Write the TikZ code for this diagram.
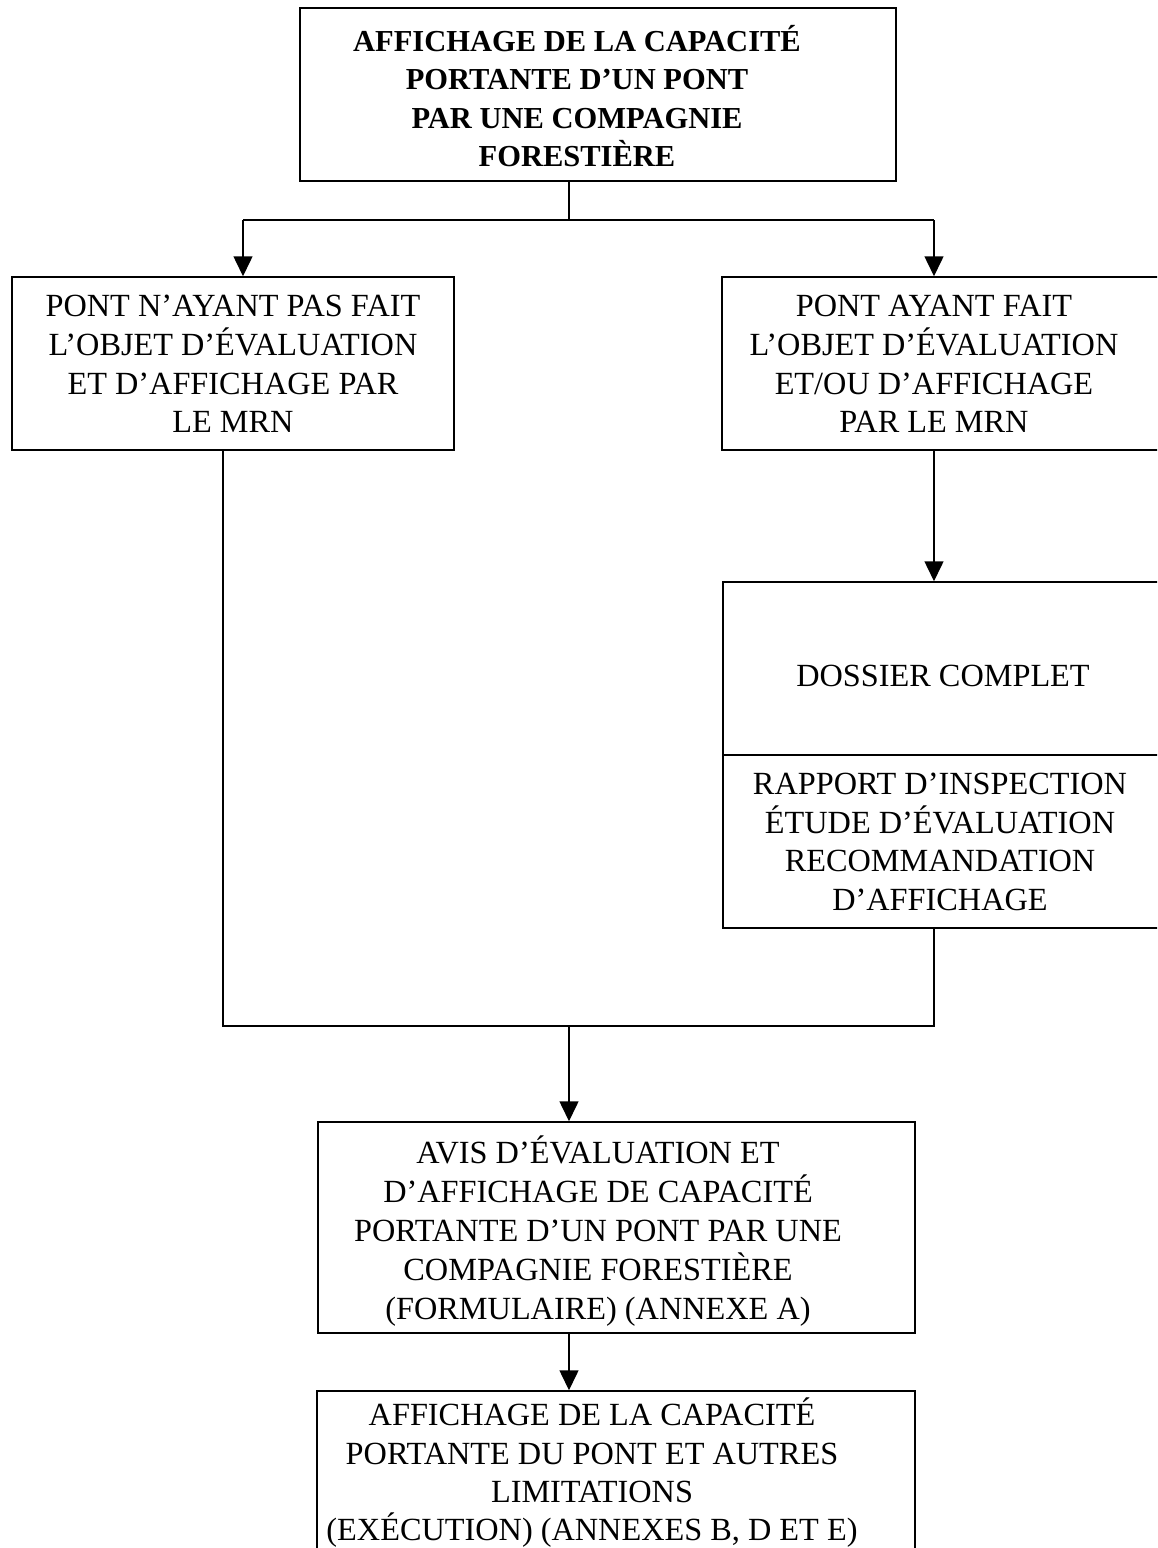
\documentclass[tikz,border=0pt]{standalone}
\usepackage{fontspec}
\setmainfont{Liberation Serif}
\usetikzlibrary{arrows.meta}
\begin{document}
\begin{tikzpicture}[x=1pt,y=-1pt,
  box/.style={draw, line width=1.5pt, inner sep=0pt, rectangle},
  lbl/.style={align=center, inner sep=0pt, font=\fontsize{32.3}{38.8}\selectfont},
  ln/.style={line width=1.5pt},
  arr/.style={line width=1.5pt, -{Triangle[width=19pt,length=20pt]}}]
\clip (0,0) rectangle (1157,1548);
\fill[white] (0,0) rectangle (1157,1548);
% boxes
\node[box, minimum width=596pt, minimum height=173pt] (tbox) at (598,94.5) {};
\node[box, minimum width=442pt, minimum height=173pt] (lbox) at (233,363.5) {};
\node[box, minimum width=464pt, minimum height=173pt] (rbox) at (954,363.5) {};
\node[box, minimum width=474pt, minimum height=346pt] (dbox) at (960,755) {};
\draw[ln] (dbox.west) -- (dbox.east);
\node[box, minimum width=597pt, minimum height=211pt] (abox) at (616.5,1227.5) {};
\node[box, minimum width=598pt, minimum height=210pt] (bbox) at (616,1496) {};
% texts
\node[lbl, font=\fontsize{30.5}{38.5}\selectfont\bfseries] (ttext) at (577,96) {AFFICHAGE DE LA CAPACITÉ\\PORTANTE D’UN PONT\\PAR UNE COMPAGNIE\\FORESTIÈRE};
\node[lbl] (ltext) at (233,364) {PONT N’AYANT PAS FAIT\\L’OBJET D’ÉVALUATION\\ET D’AFFICHAGE PAR\\LE MRN};
\node[lbl] (rtext) at (934,364) {PONT AYANT FAIT\\L’OBJET D’ÉVALUATION\\ET/OU D’AFFICHAGE\\PAR LE MRN};
\node[lbl] (dtext) at (943,676) {DOSSIER COMPLET};
\node[lbl] (dtextb) at (940,842) {RAPPORT D’INSPECTION\\ÉTUDE D’ÉVALUATION\\RECOMMANDATION\\D’AFFICHAGE};
\node[lbl] (atext) at (598,1231) {AVIS D’ÉVALUATION ET\\D’AFFICHAGE DE CAPACITÉ\\PORTANTE D’UN PONT PAR UNE\\COMPAGNIE FORESTIÈRE\\(FORMULAIRE) (ANNEXE A)};
\node[lbl, anchor=north, font=\fontsize{32.3}{38.3}\selectfont] (btext) at (592,1398) {AFFICHAGE DE LA CAPACITÉ\\PORTANTE DU PONT ET AUTRES\\LIMITATIONS\\(EXÉCUTION) (ANNEXES B, D ET E)};
% junction coordinates
\coordinate (s1) at (569,220);
\coordinate (la) at (243,220);
\coordinate (ra) at (934,220);
\coordinate (lj) at (223,1026);
\coordinate (mj) at (569,1026);
\coordinate (rj) at (934,1026);
% connectors
\draw[ln] (tbox.south -| s1) -- (s1);
\draw[ln] (la) -- (ra);
\draw[arr] (la) -- (la |- lbox.north);
\draw[arr] (ra) -- (ra |- rbox.north);
\draw[arr] (ra |- rbox.south) -- (ra |- dbox.north);
\draw[ln] (lj |- lbox.south) -- (lj) -- (rj) -- (rj |- dbox.south);
\draw[arr] (mj) -- (mj |- abox.north);
\draw[arr] (mj |- abox.south) -- (mj |- bbox.north);
\end{tikzpicture}
\end{document}
